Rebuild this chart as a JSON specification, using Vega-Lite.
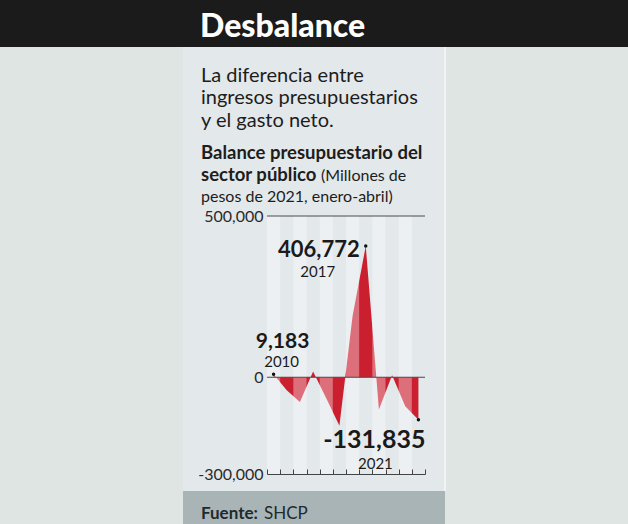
{
  "$schema": "https://vega.github.io/schema/vega-lite/v6.json",
  "width": 158,
  "height": 258,
  "autosize": {"type": "none"},
  "padding": {"left": 267, "top": 216, "right": 203, "bottom": 50},
  "background": "#dfe5e2",
  "config": {
    "view": {"stroke": null},
    "font": "Lato",
    "locale": {
      "number": {"decimal": ".", "thousands": ",", "grouping": [3], "currency": ["$", ""], "minus": "-"}
    }
  },
  "datasets": {
    "balance": [
      {"year": 2010, "value": 9183},
      {"year": 2011, "value": -40000},
      {"year": 2012, "value": -77000},
      {"year": 2013, "value": 18000},
      {"year": 2014, "value": -65000},
      {"year": 2015, "value": -150000},
      {"year": 2016, "value": 190000},
      {"year": 2017, "value": 406772},
      {"year": 2018, "value": -100000},
      {"year": 2019, "value": 6000},
      {"year": 2020, "value": -90000},
      {"year": 2021, "value": -131835}
    ]
  },
  "layer": [
    {
      "data": {"values": [{}]},
      "layer": [
        {"mark": {"type": "rect", "x": -267, "x2": 361, "y": -216, "y2": -169, "fill": "#1b1b1b"}},
        {"mark": {"type": "rect", "x": -84, "x2": 178, "y": -169, "y2": 275, "fill": "#e3e8eb"}},
        {"mark": {"type": "rect", "x": 177, "x2": 179, "y": -169, "y2": 275, "fill": "#f0f2f3"}},
        {"mark": {"type": "rect", "x": -84, "x2": 178, "y": 275, "y2": 308, "fill": "#a9b4b7"}}
      ]
    },
    {
      "data": {"name": "balance"},
      "mark": {"type": "area", "color": "#c91f2e", "interpolate": "linear"},
      "encoding": {
        "x": {
          "field": "year", "type": "ordinal",
          "scale": {"paddingInner": 0, "paddingOuter": 0},
          "axis": {"title": null, "labels": false, "domain": true, "domainColor": "#444444", "ticks": true, "tickColor": "#444444", "tickSize": -5, "tickBand": "extent", "grid": false, "zindex": 2}
        },
        "y": {
          "field": "value", "type": "quantitative",
          "scale": {"domain": [-300000, 500000], "nice": false, "zero": false},
          "axis": {"title": null, "values": [-300000, 0, 500000], "format": ",d", "domain": false, "ticks": false, "grid": false, "labelFont": "Lato", "labelFontSize": 16, "labelColor": "#2a2a2a", "labelPadding": 4, "zindex": 2}
        },
        "y2": {"datum": 0}
      }
    },
    {
      "data": {"name": "balance"},
      "transform": [{"filter": "datum.year % 2 == 0"}],
      "mark": {"type": "rect", "fill": "#ffffff", "opacity": 0.36},
      "encoding": {
        "x": {"field": "year", "type": "ordinal"},
        "y": {"datum": 500000},
        "y2": {"datum": -300000}
      }
    },
    {
      "data": {"values": [{}]},
      "layer": [
        {"mark": {"type": "rule", "color": "#4a4a4a", "strokeWidth": 1}, "encoding": {"y": {"datum": 500000}}},
        {"mark": {"type": "rule", "color": "#4a4a4a", "strokeWidth": 1}, "encoding": {"y": {"datum": 0}}}
      ]
    },
    {
      "data": {"name": "balance"},
      "transform": [{"filter": {"field": "year", "oneOf": [2010, 2017, 2021]}}],
      "layer": [
        {
          "mark": {"type": "point", "filled": true, "color": "#111111", "size": 12, "opacity": 1},
          "encoding": {"x": {"field": "year", "type": "ordinal"}, "y": {"field": "value", "type": "quantitative"}}
        }
      ]
    },
    {
      "data": {"name": "balance"},
      "transform": [{"filter": "datum.year == 2017"}],
      "encoding": {"x": {"field": "year", "type": "ordinal"}, "y": {"field": "value", "type": "quantitative"}},
      "layer": [
        {"mark": {"type": "text", "align": "right", "baseline": "alphabetic", "dx": -6, "dy": 11, "fontSize": 22, "fontWeight": "bold", "color": "#1a1a1a"}, "encoding": {"text": {"field": "value", "format": ","}}},
        {"mark": {"type": "text", "align": "center", "baseline": "alphabetic", "dx": -48, "dy": 31, "fontSize": 15, "color": "#1a1a1a"}, "encoding": {"text": {"field": "year"}}}
      ]
    },
    {
      "data": {"name": "balance"},
      "transform": [{"filter": "datum.year == 2010"}],
      "encoding": {"x": {"field": "year", "type": "ordinal"}, "y": {"field": "value", "type": "quantitative"}},
      "layer": [
        {"mark": {"type": "text", "align": "center", "baseline": "alphabetic", "dx": 9, "dy": -26, "fontSize": 21, "fontWeight": "bold", "color": "#1a1a1a"}, "encoding": {"text": {"field": "value", "format": ","}}},
        {"mark": {"type": "text", "align": "center", "baseline": "alphabetic", "dx": 8, "dy": -7, "fontSize": 15, "color": "#1a1a1a"}, "encoding": {"text": {"field": "year"}}}
      ]
    },
    {
      "data": {"name": "balance"},
      "transform": [{"filter": "datum.year == 2021"}],
      "encoding": {"x": {"field": "year", "type": "ordinal"}, "y": {"field": "value", "type": "quantitative"}},
      "layer": [
        {"mark": {"type": "text", "align": "right", "baseline": "alphabetic", "dx": 7, "dy": 28, "fontSize": 25, "fontWeight": "bold", "color": "#1a1a1a"}, "encoding": {"text": {"field": "value", "format": ","}}},
        {"mark": {"type": "text", "align": "center", "baseline": "alphabetic", "dx": -43, "dy": 49, "fontSize": 15, "color": "#1a1a1a"}, "encoding": {"text": {"field": "year"}}}
      ]
    },
    {
      "data": {"values": [{}]},
      "layer": [
        {"mark": {"type": "text", "text": "Desbalance", "x": -67, "y": -179, "align": "left", "baseline": "alphabetic", "fontSize": 32, "fontWeight": 900, "color": "#ffffff"}},
        {"mark": {"type": "text", "text": ["La diferencia entre", "ingresos presupuestarios", "y el gasto neto."], "x": -66, "y": -134.5, "lineHeight": 22.5, "align": "left", "baseline": "alphabetic", "fontSize": 20, "color": "#1d1d1b"}},
        {"mark": {"type": "text", "text": "Balance presupuestario del", "x": -66, "y": -57, "align": "left", "baseline": "alphabetic", "fontSize": 18.5, "fontWeight": "bold", "color": "#1d1d1b"}},
        {"mark": {"type": "text", "text": "sector público", "x": -66, "y": -35, "align": "left", "baseline": "alphabetic", "fontSize": 18.5, "fontWeight": "bold", "color": "#1d1d1b"}},
        {"mark": {"type": "text", "text": "(Millones de", "x": 54, "y": -35, "align": "left", "baseline": "alphabetic", "fontSize": 16, "color": "#1d1d1b"}},
        {"mark": {"type": "text", "text": "pesos de 2021, enero-abril)", "x": -66, "y": -14, "align": "left", "baseline": "alphabetic", "fontSize": 16, "color": "#1d1d1b"}},
        {"mark": {"type": "text", "text": "Fuente:", "x": -66, "y": 303, "align": "left", "baseline": "alphabetic", "fontSize": 17, "fontWeight": "bold", "color": "#1d2a2e"}},
        {"mark": {"type": "text", "text": "SHCP", "x": -3, "y": 303, "align": "left", "baseline": "alphabetic", "fontSize": 17, "color": "#1d2a2e"}}
      ]
    }
  ]
}
